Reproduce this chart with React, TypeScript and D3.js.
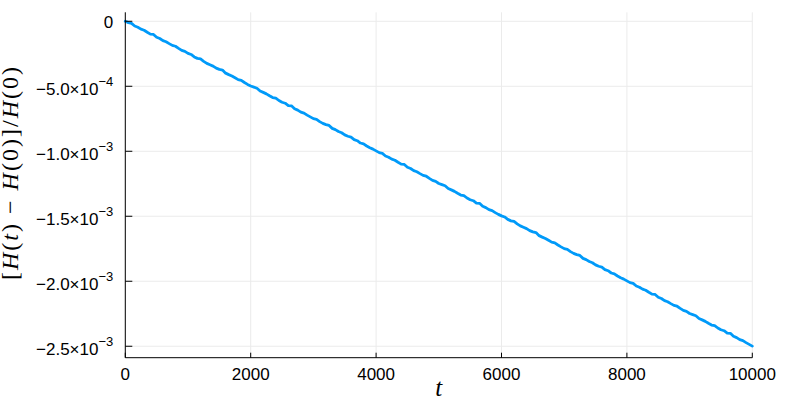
import React from "react";
import * as d3 from "d3";

// time samples step (t from 0 to 10000)
const tMax = 10000;
const tStep = 50;
// relative energy error, in units of 1e-5 (one value per tStep)
const errE5: number[] = [
  0, -1.05, -1.6, -3.65, -4.6, -6.05, -6.9, -8.45, -9.9, -10.15,
  -12.3, -13.25, -14.9, -15.75, -17.2, -18.55, -19.2, -20.85, -22.4, -23.15,
  -24.7, -25.55, -27.4, -28.55, -29.0, -30.85, -32.4, -33.45, -34.5, -36.05,
  -37.0, -37.55, -39.9, -41.05, -42.1, -43.45, -44.9, -45.45, -47.1, -48.55,
  -49.8, -50.65, -51.5, -53.65, -54.7, -55.85, -57.3, -58.65, -59.1, -60.95,
  -62.3, -63.05, -64.9, -65.05, -67.3, -68.35, -69.9, -70.65, -72.2, -73.55,
  -74.9, -75.45, -77.2, -78.55, -79.5, -80.15, -82.4, -83.35, -84.8, -85.75,
  -87.4, -88.45, -89.1, -91.05, -91.9, -93.65, -94.3, -95.95, -97.3, -98.35,
  -99.7, -101.05, -101.6, -103.65, -104.6, -106.05, -106.9, -108.45, -109.9, -110.15,
  -112.3, -113.25, -114.9, -115.75, -117.2, -118.55, -119.2, -120.85, -122.4, -123.15,
  -124.8, -125.65, -126.5, -128.65, -129.7, -130.85, -132.3, -133.65, -134.1, -135.95,
  -137.3, -138.05, -139.9, -140.05, -142.3, -143.35, -144.9, -145.65, -147.2, -148.55,
  -149.7, -150.55, -152.4, -153.55, -154.0, -155.85, -157.4, -158.45, -159.5, -161.05,
  -162.0, -162.55, -164.9, -166.05, -167.1, -168.45, -169.9, -170.45, -172.1, -173.55,
  -174.9, -175.45, -177.2, -178.55, -179.5, -180.15, -182.4, -183.35, -184.8, -185.75,
  -187.4, -188.45, -189.1, -191.05, -191.9, -193.65, -194.3, -195.95, -197.3, -198.35,
  -199.7, -201.05, -201.6, -203.65, -204.6, -206.05, -206.9, -208.45, -209.9, -210.15,
  -212.3, -213.25, -214.9, -215.75, -217.2, -218.55, -219.2, -220.85, -222.4, -223.15,
  -224.8, -225.65, -226.5, -228.65, -229.7, -230.85, -232.3, -233.65, -234.1, -235.95,
  -237.3, -238.05, -239.9, -240.05, -242.3, -243.35, -244.9, -245.65, -247.2, -248.55,
  -249.9,
];

const xTicks = [0, 2000, 4000, 6000, 8000, 10000];
const xTickLabels = ["0", "2000", "4000", "6000", "8000", "10000"];
const yTicks = [0, -5e-4, -1e-3, -1.5e-3, -2e-3, -2.5e-3];
const yTickMantissa = ["0", "\u22125.0\u00d710", "\u22121.0\u00d710", "\u22121.5\u00d710", "\u22122.0\u00d710", "\u22122.5\u00d710"];
const yTickExponent = ["", "\u22124", "\u22123", "\u22123", "\u22123", "\u22123"];
const yDomain = [-2.588e-3, 0.069e-3];

const W = 800;
const H = 400;
const left = 125.3;
const right = 752.3;
const top = 12.3;
const bottom = 357.7;
const tickFont = "'Liberation Sans', Arial, Helvetica, sans-serif";
const mathFont = "'Liberation Serif', 'Times New Roman', serif";

export default function App() {
  const x = d3.scaleLinear().domain([0, tMax]).range([left, right]);
  const y = d3.scaleLinear().domain(yDomain).range([bottom, top]);
  const ts = d3.range(0, tMax + 1, tStep);
  const pts: [number, number][] = errE5.map((v, i) => [ts[i], v * 1e-5]);
  const line = d3
    .line<[number, number]>()
    .x((d) => x(d[0]))
    .y((d) => y(d[1]));

  return (
    <svg
      width={W}
      height={H}
      style={{ position: "fixed", left: 0, top: 0, background: "#fff" }}
    >
      <rect x={0} y={0} width={W} height={H} fill="#fff" />
      {/* grid */}
      <g stroke="#ebebeb" strokeWidth={1}>
        {yTicks.map((v, i) => (
          <line key={"gy" + i} x1={left} x2={right} y1={y(v)} y2={y(v)} />
        ))}
        {xTicks.map((v, i) => (
          <line key={"gx" + i} x1={x(v)} x2={x(v)} y1={top} y2={bottom} />
        ))}
      </g>
      {/* data */}
      <path
        d={line(pts) || ""}
        fill="none"
        stroke="#009af9"
        strokeWidth={2.8}
        strokeLinejoin="round"
        strokeLinecap="round"
      />
      {/* spines */}
      <line x1={left} x2={left} y1={top} y2={bottom} stroke="#000" strokeWidth={1} />
      <line x1={left} x2={right} y1={bottom} y2={bottom} stroke="#000" strokeWidth={1} />
      {/* ticks */}
      <g stroke="#000" strokeWidth={1}>
        {yTicks.map((v, i) => (
          <line key={"ty" + i} x1={left} x2={left + 7} y1={y(v)} y2={y(v)} />
        ))}
        {xTicks.map((v, i) => (
          <line key={"tx" + i} x1={x(v)} x2={x(v)} y1={bottom} y2={bottom - 5} />
        ))}
      </g>
      {/* y tick labels */}
      <g fontFamily={tickFont} fill="#000">
        {yTicks.map((v, i) =>
          yTickExponent[i] === "" ? (
            <text key={"ly" + i} x={113.3} y={y(v) + 7} textAnchor="end" fontSize={17}>
              {yTickMantissa[i]}
            </text>
          ) : (
            <text key={"ly" + i} x={113.3} y={y(v) + 8.7} textAnchor="end" fontSize={17}>
              <tspan>{yTickMantissa[i]}</tspan>
              <tspan dy={-9} fontSize={13}>
                {yTickExponent[i]}
              </tspan>
            </text>
          )
        )}
        {xTicks.map((v, i) => (
          <text key={"lx" + i} x={x(v)} y={380} textAnchor="middle" fontSize={17}>
            {xTickLabels[i]}
          </text>
        ))}
      </g>
      {/* axis titles */}
      <text
        x={(left + right) / 2}
        y={396}
        textAnchor="middle"
        fontFamily={mathFont}
        fontStyle="italic"
        fontSize={25}
      >
        t
      </text>
      <text
        transform={`translate(18, ${173.5}) rotate(-90)`}
        textAnchor="middle"
        fontFamily={mathFont}
        fontSize={24}
        textLength={213}
        lengthAdjust="spacing"
      >
        <tspan>[</tspan>
        <tspan fontStyle="italic">H</tspan>
        <tspan>(</tspan>
        <tspan fontStyle="italic">t</tspan>
        <tspan>) − </tspan>
        <tspan fontStyle="italic">H</tspan>
        <tspan>(0)]/</tspan>
        <tspan fontStyle="italic">H</tspan>
        <tspan>(0)</tspan>
      </text>
    </svg>
  );
}
